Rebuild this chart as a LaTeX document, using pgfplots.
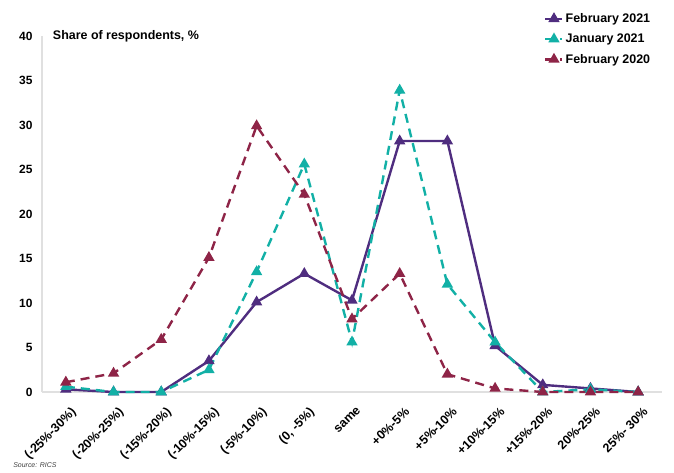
\documentclass[border=0pt]{standalone}
\usepackage{fontspec}
\setmainfont{Liberation Sans}
\usepackage{pgfplots}
\pgfplotsset{compat=1.18}
\definecolor{cPur}{HTML}{4F2D7F}
\definecolor{cTeal}{HTML}{12B0A6}
\definecolor{cMar}{HTML}{8E2447}
\begin{document}
\begin{tikzpicture}
\path[use as bounding box] (-42bp,-81bp) rectangle (632bp,392bp);
\begin{axis}[
  at={(0,0)}, anchor=south west,
  scale only axis, width=620bp, height=356bp,
  xmin=-0.5, xmax=12.5, ymin=0, ymax=40,
  axis lines=left,
  axis line style={draw=black!12, line width=1.2bp, -},
  ytick={0,5,...,40},
  xtick={0,...,12},
  xticklabels={(-25\%-30\%),(-20\%-25\%),(-15\%-20\%),(-10\%-15\%),(-5\%-10\%),{(0, -5\%)},same,+0\%-5\%,+5\%-10\%,+10\%-15\%,+15\%-20\%,20\%-25\%,25\%- 30\%},
  major tick length=0pt,
  /pgf/number format/assume math mode=true,
  tick label style={font=\fontsize{12}{14}\selectfont\bfseries},
  yticklabel style={xshift=-6bp},
  xticklabel style={font=\fontsize{12.5}{14}\selectfont\bfseries, rotate=45, anchor=north east, inner sep=0pt, xshift=-7bp, yshift=-13bp},
  clip=false,
  legend style={draw=none, fill=none, at={(rel axis cs:0.805,1.075)}, anchor=north west,
    font=\fontsize{12.5}{15}\selectfont\bfseries, row sep=6bp, cells={anchor=west}},
  legend cell align=left,
  mark size=4.2bp,
  every axis plot/.append style={line width=2.4bp},
]
\addplot[cPur, mark=triangle*, mark options={solid}] coordinates {
(0,0.3) (1,0) (2,0) (3,3.5) (4,10.1) (5,13.3) (6,10.3) (7,28.2) (8,28.2) (9,5.2) (10,0.8) (11,0.4) (12,0)};
\addlegendentry{February 2021}
\addplot[cTeal, dash pattern=on 9bp off 6bp, mark=triangle*, mark options={solid}] coordinates {
(0,0.6) (1,0) (2,0) (3,2.5) (4,13.5) (5,25.6) (6,5.6) (7,33.9) (8,12.1) (9,5.6) (10,0) (11,0.3) (12,0)};
\addlegendentry{January 2021}
\addplot[cMar, dash pattern=on 9bp off 6bp, mark=triangle*, mark options={solid}] coordinates {
(0,1.1) (1,2.1) (2,5.9) (3,15.1) (4,29.9) (5,22.2) (6,8.2) (7,13.3) (8,2.0) (9,0.4) (10,0) (11,0) (12,0)};
\addlegendentry{February 2020}
\node[anchor=west, font=\fontsize{12.5}{15}\selectfont\bfseries] at (rel axis cs:0.012,1) {Share of respondents, \%};
\node[anchor=west, font=\fontsize{7}{8}\selectfont\itshape, text=black!75] at (rel axis cs:-0.052,-0.205) {Source: RICS};
\end{axis}
\end{tikzpicture}
\end{document}
